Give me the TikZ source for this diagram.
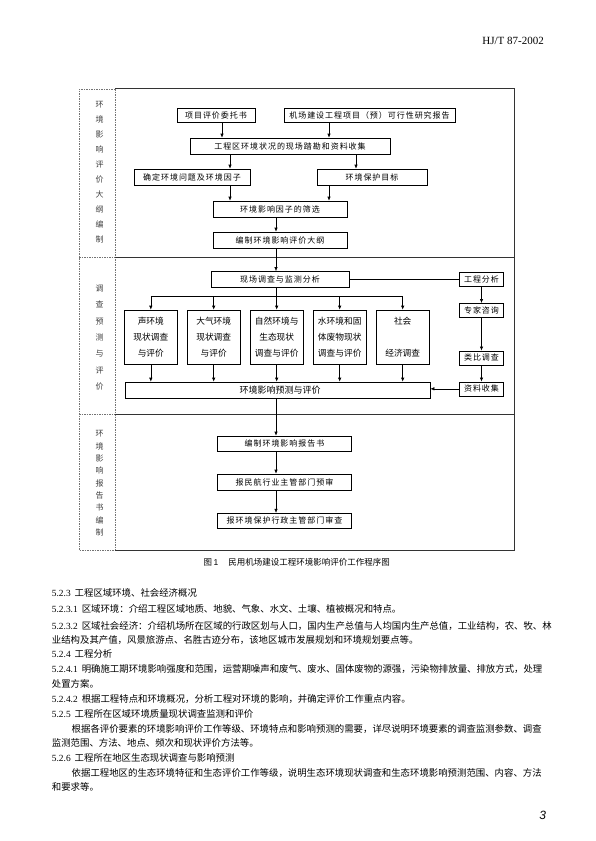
\documentclass[tikz,border=0pt]{standalone}
\usepackage{fontspec}
\setmainfont{Liberation Serif}
\newfontfamily\cjk{Noto Sans CJK SC}
\newfontfamily\cjks[LetterSpace=12]{Noto Sans CJK SC}
\newfontfamily\lat{Liberation Serif}
\newfontfamily\arialf{Liberation Sans}
\newcommand\secnum[1]{{\lat #1}\hspace{4pt}}
\usetikzlibrary{arrows.meta}
\tikzset{
  box/.style={draw=black, line width=0.6pt, inner sep=0pt, font=\cjks\fontsize{8}{9.6}\selectfont},
  hbox/.style={draw=black, line width=0.6pt, inner sep=0pt, align=center, font=\cjk\fontsize{8.7}{16.3}\selectfont},
  arr/.style={-{Latex[length=4pt,width=3.4pt]}, line width=0.6pt},
  conn/.style={line width=0.6pt},
  frame/.style={draw=black!80, line width=0.8pt},
  dframe/.style={draw=black!55, line width=0.5pt, dash pattern=on 1.5pt off 1pt},
  lab/.style={align=center, inner sep=0pt, text=black!75},
  body/.style={anchor=west, inner sep=0pt, font=\cjk\fontsize{9.4}{11}\selectfont}
}
\begin{document}
\begin{tikzpicture}[x=1pt,y=-1pt]
\useasboundingbox (0,0) rectangle (595,841);
\fill[white] (0,0) rectangle (595,841);
% header and page number
\node[anchor=east, inner sep=0pt, font=\lat\fontsize{11}{13}\selectfont] (hdr) at (544,40.7) {HJ/T 87-2002};
\node[inner sep=0pt, font=\arialf\itshape\fontsize{12}{14}\selectfont] (pg) at (542.8,815.5) {3};
% frame
\draw[dframe] (115,89) -- (79,89) -- (79,550) -- (115,550);
\draw[dframe] (115,89) -- (115,550);
\draw[dframe] (79,257) -- (115,257);
\draw[dframe] (79,414) -- (115,414);
\draw[frame] (115,88) -- (514,88) -- (514,550) -- (115,550);
\draw[frame] (115,257) -- (514,257);
\draw[frame] (115,414) -- (514,414);
% left labels
\node[lab, font=\cjk\fontsize{8}{15}\selectfont] (lab1) at (99.5,172.5) {环\\境\\影\\响\\评\\价\\大\\纲\\编\\制};
\node[lab, font=\cjk\fontsize{8}{16.4}\selectfont] (lab2) at (99.5,337.5) {调\\查\\预\\测\\与\\评\\价};
\node[lab, font=\cjk\fontsize{8}{12.33}\selectfont] (lab3) at (99.5,483.3) {环\\境\\影\\响\\报\\告\\书\\编\\制};
% section 1
\node[box, minimum width=78pt, minimum height=14pt] (n1) at (216,115) {项目评价委托书};
\node[box, minimum width=171pt, minimum height=14pt] (n2) at (369.5,115) {机场建设工程项目（预）可行性研究报告};
\node[box, minimum width=200pt, minimum height=16pt] (n3) at (290,146) {工程区环境状况的现场踏勘和资料收集};
\node[box, minimum width=116pt, minimum height=16pt] (n4) at (192,177) {确定环境问题及环境因子};
\node[box, minimum width=110pt, minimum height=16pt] (n5) at (372,177) {环境保护目标};
\node[box, minimum width=134pt, minimum height=16pt] (n6) at (280,209) {环境影响因子的筛选};
\node[box, minimum width=134pt, minimum height=16pt] (n7) at (280,240) {编制环境影响评价大纲};
\draw[arr] ([xshift=6pt]n1.south) -- ([xshift=6pt]n1.south |- n3.north);
\draw[arr] ([xshift=-40.5pt]n2.south) -- ([xshift=-40.5pt]n2.south |- n3.north);
\draw[arr] ([xshift=-60pt]n3.south) -- ([xshift=-60pt]n3.south |- n4.north);
\draw[arr] ([xshift=66pt]n3.south) -- ([xshift=66pt]n3.south |- n5.north);
\draw[arr] ([xshift=38pt]n4.south) -- ([xshift=38pt]n4.south |- n6.north);
\draw[arr] ([xshift=-43pt]n5.south) -- ([xshift=-43pt]n5.south |- n6.north);
\draw[arr] ([xshift=-4pt]n6.south) -- ([xshift=-4pt]n6.south |- n7.north);
% section 2
\node[box, minimum width=138pt, minimum height=16pt] (n8) at (280,279.5) {现场调查与监测分析};
\draw[arr] ([xshift=-4pt]n7.south) -- ([xshift=-4pt]n7.south |- n8.north);
\node[hbox, minimum width=53pt, minimum height=54pt] (b1) at (150.8,337) {声环境\\现状调查\\与评价};
\node[hbox, minimum width=53pt, minimum height=54pt] (b2) at (213.7,337) {大气环境\\现状调查\\与评价};
\node[hbox, minimum width=53pt, minimum height=54pt] (b3) at (276.7,337) {自然环境与\\生态现状\\调查与评价};
\node[hbox, minimum width=53pt, minimum height=54pt] (b4) at (339.7,337) {水环境和固\\体废物现状\\调查与评价};
\node[hbox, minimum width=53pt, minimum height=54pt] (b5) at (402.7,337) {社会\\\mbox{}\\经济调查};
\coordinate (bus) at (276.7,296);
\draw[conn] ([xshift=-4pt]n8.south) -- ([xshift=-4pt]n8.south |- bus);
\draw[conn] (b1.north |- bus) -- (b5.north |- bus);
\foreach \b in {b1,b2,b3,b4,b5}{
  \draw[arr] (\b.north |- bus) -- (\b.north);
}
\node[hbox, minimum width=305pt, minimum height=16pt, font=\cjk\fontsize{9}{10}\selectfont] (n9) at (277.5,390) {\hspace{5pt}环境影响预测与评价};
\foreach \b in {b1,b2,b3,b4,b5}{
  \draw[arr] (\b.south) -- (\b.south |- n9.north);
}
\node[box, minimum width=44pt, minimum height=13.5pt] (r1) at (481.5,279.5) {工程分析};
\node[box, minimum width=44pt, minimum height=14pt] (r2) at (481.5,310.3) {专家咨询};
\node[box, minimum width=44pt, minimum height=14pt] (r3) at (481.5,357.8) {类比调查};
\node[box, minimum width=44pt, minimum height=14pt] (r4) at (481.5,388.8) {资料收集};
\draw[conn] (n8.east) -- (r1.west);
\draw[arr] (r1.south) -- (r2.north);
\draw[arr] (r2.south) -- (r3.north);
\draw[arr] (r3.south) -- (r4.north);
\draw[arr] (r4.west) -- (r4.west -| n9.east);
% section 3
\node[box, minimum width=134.5pt, minimum height=15pt] (n10) at (284.5,443.5) {编制环境影响报告书};
\node[box, minimum width=134.5pt, minimum height=16pt] (n11) at (284.5,482) {报民航行业主管部门预审};
\node[box, minimum width=134.5pt, minimum height=15pt] (n12) at (284.5,520.7) {报环境保护行政主管部门审查};
\draw[arr] ([xshift=-1.5pt]n9.south) -- ([xshift=-1.5pt]n9.south |- n10.north);
\draw[arr] ([xshift=-8.5pt]n10.south) -- ([xshift=-8.5pt]n10.south |- n11.north);
\draw[arr] ([xshift=-8.5pt]n11.south) -- ([xshift=-8.5pt]n11.south |- n12.north);
% caption
\node[inner sep=0pt, font=\cjk\fontsize{8.5}{10}\selectfont] (cap) at (296.7,562.7) {图\,{\arialf 1}\hspace{10pt}民用机场建设工程环境影响评价工作程序图};
% body text
\node[body] (t1) at (51.7,593.3) {\secnum{5.2.3}工程区域环境、社会经济概况};
\node[body] (t2) at (51.7,609.3) {\secnum{5.2.3.1}区域环境：介绍工程区域地质、地貌、气象、水文、土壤、植被概况和特点。};
\node[body] (t3) at (51.7,625.7) {\secnum{5.2.3.2}区域社会经济：介绍机场所在区域的行政区划与人口，国内生产总值与人均国内生产总值，工业结构，农、牧、林};
\node[body] (t4) at (51.7,640) {业结构及其产值，风景旅游点、名胜古迹分布，该地区城市发展规划和环境规划要点等。};
\node[body] (t5) at (51.7,654.3) {\secnum{5.2.4}工程分析};
\node[body] (t6) at (51.7,669.3) {\secnum{5.2.4.1}明确施工期环境影响强度和范围，运营期噪声和废气、废水、固体废物的源强，污染物排放量、排放方式，处理};
\node[body] (t7) at (51.7,684) {处置方案。};
\node[body] (t8) at (51.7,699.3) {\secnum{5.2.4.2}根据工程特点和环境概况，分析工程对环境的影响，并确定评价工作重点内容。};
\node[body] (t9) at (51.7,714.3) {\secnum{5.2.5}工程所在区域环境质量现状调查监测和评价};
\node[body] (t10) at (71.5,729.3) {根据各评价要素的环境影响评价工作等级、环境特点和影响预测的需要，详尽说明环境要素的调查监测参数、调查};
\node[body] (t11) at (51.7,743.3) {监测范围、方法、地点、频次和现状评价方法等。};
\node[body] (t12) at (51.7,758.3) {\secnum{5.2.6}工程所在地区生态现状调查与影响预测};
\node[body] (t13) at (71.5,773.3) {依据工程地区的生态环境特征和生态评价工作等级，说明生态环境现状调查和生态环境影响预测范围、内容、方法};
\node[body] (t14) at (51.7,787.3) {和要求等。};
\end{tikzpicture}
\end{document}
